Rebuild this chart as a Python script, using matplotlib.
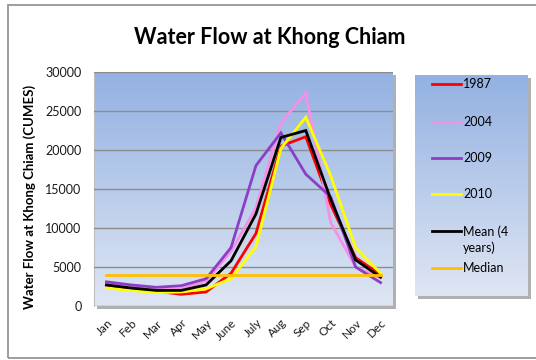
import matplotlib
matplotlib.use("Agg")
import matplotlib.pyplot as plt
import numpy as np
from matplotlib.patches import Rectangle
from matplotlib.colors import LinearSegmentedColormap

months = ["Jan", "Feb", "Mar", "Apr", "May", "June", "July", "Aug", "Sep", "Oct", "Nov", "Dec"]
flow_1987 = [2700, 2200, 1900, 1500, 1800, 4200, 9300, 20500, 21700, 13000, 6200, 4000]
flow_2004 = [2800, 2400, 2100, 2200, 3200, 7000, 12600, 23500, 27300, 10700, 5000, 3600]
flow_2009 = [3100, 2700, 2400, 2600, 3500, 7500, 18000, 22200, 16900, 14000, 5000, 3000]
flow_2010 = [2300, 2000, 1700, 1800, 2200, 3500, 7600, 20200, 24200, 16700, 7500, 4200]
flow_mean = [2700, 2300, 2000, 2000, 2700, 5800, 11800, 21600, 22500, 13700, 5900, 3700]
flow_median = [4000] * 12

series = [
    ("1987", flow_1987, "#ff0000"),
    ("2004", flow_2004, "#f590e6"),
    ("2009", flow_2009, "#8a3fc4"),
    ("2010", flow_2010, "#ffff00"),
    ("Mean (4\nyears)", flow_mean, "#000000"),
    ("Median", flow_median, "#ffc000"),
]

plt.rcParams['font.family'] = ['Lato', 'DejaVu Sans']

W, H = 536, 360
fig = plt.figure(figsize=(W / 100, H / 100), dpi=100)
fig.patch.set_facecolor("white")

def fx(px):
    return px / W

def fy(py):
    return 1 - py / H

# outer border
fig.add_artist(Rectangle((fx(8), fy(358)), fx(540) - fx(8), fy(5) - fy(358),
                         transform=fig.transFigure, fill=False, edgecolor="#8c8c8c", lw=1.2))

cmap = LinearSegmentedColormap.from_list("g", ["#93b1e2", "#dfe6f3"])
grad = np.linspace(0, 1, 256).reshape(-1, 1)

# plot area shadow
fig.add_artist(Rectangle((fx(97), fy(309)), fx(393) - fx(94), fy(72) - fy(306),
                         transform=fig.transFigure, color="#b0b0b0", lw=0, zorder=0))

ax_l, ax_b = fx(94), fy(306)
ax_w, ax_h = fx(393) - fx(94), fy(72) - fy(306)
ax = fig.add_axes([ax_l, ax_b, ax_w, ax_h])
x = np.arange(len(months))
ax.set_xlim(-0.5, len(months) - 0.5)
ax.set_ylim(0, 30000)
ax.imshow(grad, cmap=cmap, aspect="auto", extent=(-0.5, len(months) - 0.5, 0, 30000),
          zorder=0)
for s in ax.spines.values():
    s.set_visible(False)
ax.spines["left"].set_visible(True)
ax.spines["left"].set_color("#bfbfbf")
ax.set_yticks(np.arange(0, 30001, 5000))
ax.yaxis.grid(True, color="#8c8c8c", lw=1)
ax.set_axisbelow(False)
ax.tick_params(axis="both", length=0, labelsize=9, colors="#1a1a1a")
ax.tick_params(axis="y", pad=9)
ax.set_xticks(x)
ax.set_xticklabels(months, rotation=45, ha="right", rotation_mode="anchor", fontsize=8.5)
ax.tick_params(axis="x", pad=8)

for name, vals, c in series:
    ax.plot(x, vals, color=c, lw=2.0, zorder=3, solid_joinstyle="miter")

ax.set_ylabel("Water Flow at Khong Chiam (CUMES)", fontsize=9.5, fontweight="bold")
ax.yaxis.set_label_coords((fx(36) - ax_l) / ax_w, (fy(197) - ax_b) / ax_h)

fig.text(fx(270), fy(37), "Water Flow at Khong Chiam", ha="center", va="center",
         fontsize=15.5, fontweight="bold")

# legend box
fig.add_artist(Rectangle((fx(418), fy(299)), fx(528) - fx(415), fy(75) - fy(296),
                         transform=fig.transFigure, color="#b0b0b0", lw=0, zorder=0))
lax = fig.add_axes([fx(415), fy(296), fx(528) - fx(415), fy(75) - fy(296)])
lax.set_xlim(415, 528)
lax.set_ylim(296, 75)
lax.imshow(grad, cmap=cmap, aspect="auto", extent=(415, 528, 296, 75), zorder=0)
lax.set_axis_off()
ys = [84, 122, 158, 194, 231, 268]
for (name, vals, c), yy in zip(series, ys):
    lax.plot([432, 461], [yy, yy], color=c, lw=2.0)
    lax.text(463, yy - 6, name, ha="left", va="top", fontsize=9, linespacing=1.35)

fig.savefig("out.png", dpi=100)
